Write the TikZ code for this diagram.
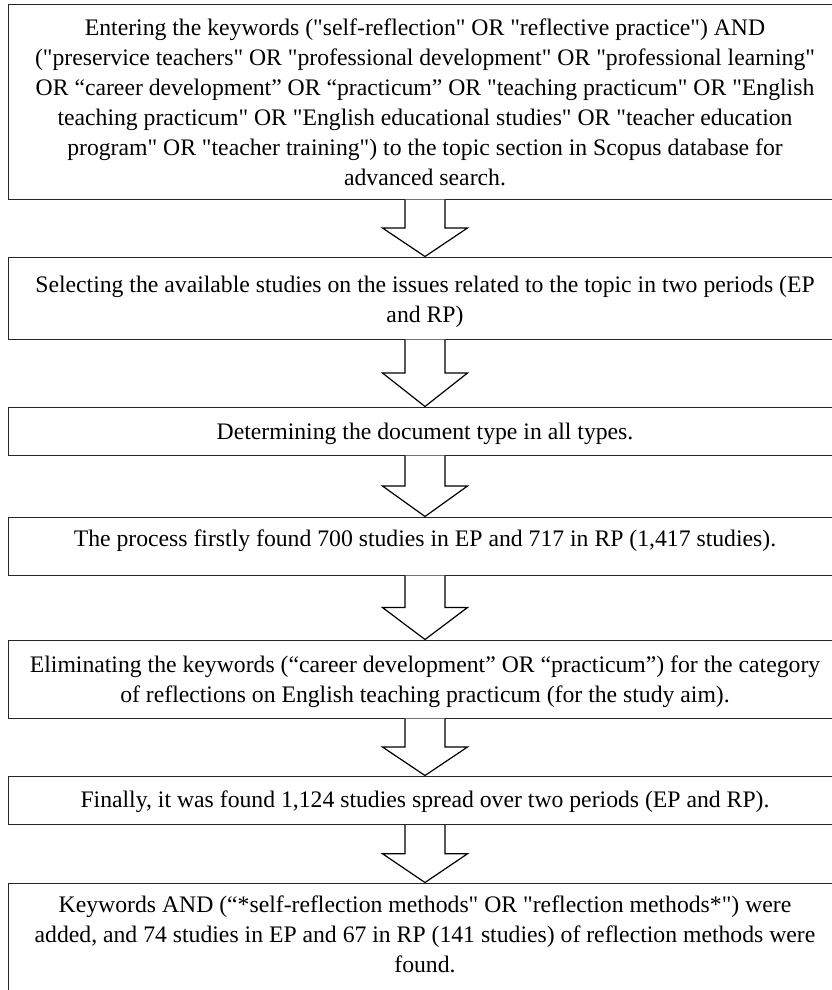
\documentclass[tikz,border=0pt]{standalone}
\usepackage{fontspec}
\setmainfont{Liberation Serif}
\newfontfamily\stepfont{Liberation Serif}
\usepackage{tikz}
\usetikzlibrary{calc}

% hollow block arrow from the bottom of one box to the top of the next
\newcommand{\flowarrow}[2]{%
  \coordinate (#1mid) at ($(#1.south)!0.5!(#2.north)$);
  \draw[hollowarrow] ([xshift=-20pt]#1.south) -- ([xshift=-20pt]#1mid)
    -- ([xshift=-42.5pt]#1mid) -- (#2.north) -- ([xshift=42.5pt]#1mid)
    -- ([xshift=20pt]#1mid) -- ([xshift=20pt]#1.south);}

\begin{document}
\begin{tikzpicture}[x=1pt,y=-1pt,
    stepbox/.style={draw=black!85,line width=1pt,rectangle,
      minimum width=834pt,inner sep=0pt},
    steptext/.style={font=\stepfont\fontsize{23.7}{30}\selectfont,align=center,
      inner sep=0pt,anchor=base},
    hollowarrow/.style={draw=black,line width=1.2pt,fill=white,line join=miter}]
    \useasboundingbox (0,0) rectangle (831,990);

    % Boxes of the search steps, top to bottom
    \node[stepbox,minimum height=194pt] (b1) at (425,102) {};
    \node[stepbox,minimum height=82pt]  (b2) at (425,298) {};
    \node[stepbox,minimum height=48pt]  (b3) at (425,431) {};
    \node[stepbox,minimum height=58pt]  (b4) at (425,546) {};
    \node[stepbox,minimum height=78pt]  (b5) at (425,679) {};
    \node[stepbox,minimum height=48.5pt] (b6) at (425,800.25) {};
    \node[stepbox,minimum height=117pt] (b7) at (425,941.5) {};

    % Texts of the steps (base = baseline of the last line)
    \node[steptext] (t1) at ([yshift=-181pt]b1.north)
      {Entering the keywords ("self-reflection" OR "reflective practice") AND\\
       ("preservice teachers" OR "professional development" OR "professional learning"\\
       OR “career development” OR “practicum” OR "teaching practicum" OR "English\\
       teaching practicum" OR "English educational studies" OR "teacher education\\
       program" OR "teacher training") to the topic section in Scopus database for\\
       advanced search.};
    \node[steptext] (t2) at ([yshift=-66pt]b2.north)
      {Selecting the available studies on the issues related to the topic in two periods (EP\\
       and RP)};
    \node[steptext] (t3) at ([yshift=-33pt]b3.north)
      {Determining the document type in all types.};
    \node[steptext] (t4) at ([yshift=-30pt]b4.north)
      {The process firstly found 700 studies in EP and 717 in RP (1,417 studies).};
    \node[steptext] (t5) at ([yshift=-63pt]b5.north)
      {Eliminating the keywords (“career development” OR “practicum”) for the category\\
       of reflections on English teaching practicum (for the study aim).};
    \node[steptext] (t6) at ([yshift=-32pt]b6.north)
      {Finally, it was found 1,124 studies spread over two periods (EP and RP).};
    \node[steptext] (t7) at ([yshift=-90pt]b7.north)
      {Keywords AND (“*self-reflection methods" OR "reflection methods*") were\\
       added, and 74 studies in EP and 67 in RP (141 studies) of reflection methods were\\
       found.};

    % Hollow arrows between the steps
    \flowarrow{b1}{b2}
    \flowarrow{b2}{b3}
    \flowarrow{b3}{b4}
    \flowarrow{b4}{b5}
    \flowarrow{b5}{b6}
    \flowarrow{b6}{b7}
\end{tikzpicture}
\end{document}
